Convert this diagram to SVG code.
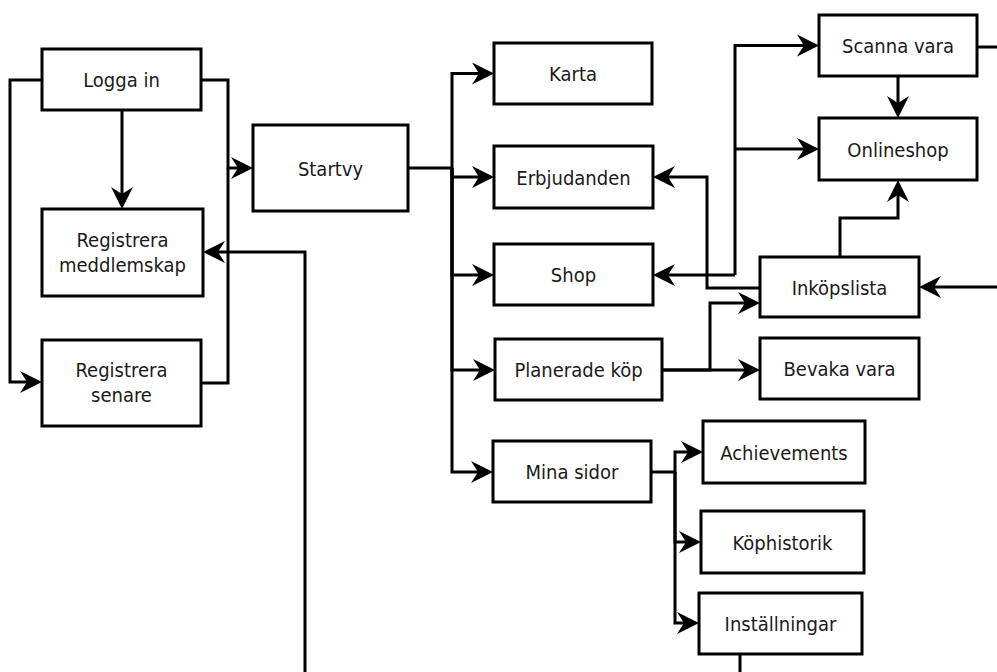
<svg xmlns="http://www.w3.org/2000/svg" width="997" height="672" viewBox="0 0 997 672">
<style>
.box{fill:#fff;stroke:#000;stroke-width:3}
.lbl{font-family:"DejaVu Sans Condensed","DejaVu Sans",sans-serif;font-stretch:condensed;font-size:20px;fill:#1a1a1a;text-anchor:middle}
.c{fill:none;stroke:#000;stroke-width:3}
.a{marker-end:url(#arr)}
</style>
<defs>
<marker id="arr" viewBox="-8 -12 24 24" refX="0" refY="0" markerWidth="24" markerHeight="24" markerUnits="userSpaceOnUse" orient="auto">
<path d="M15,0 L-7,-11 L0,0 L-7,11 Z" fill="#000"/>
</marker>
</defs>
<rect width="997" height="672" fill="#fff"/>
<g id="connectors">
<path class="c a" d="M42,80 H10 V382 H27"/>
<path class="c a" d="M122,110 V194"/>
<path class="c a" d="M201,80 H228 V168 H238"/>
<path class="c" d="M201,383 H228 V168"/>
<path class="c a" d="M305,672 V252 H218"/>
<path class="c a" d="M408,168 H452 V73.5 H479"/>
<path class="c a" d="M452,168 V177 H479"/>
<path class="c a" d="M452,168 V275 H479"/>
<path class="c a" d="M452,168 V370 H480"/>
<path class="c a" d="M452,168 V472 H478"/>
<path class="c a" d="M735,275 H668"/>
<path class="c a" d="M735,275 V45.5 H804"/>
<path class="c a" d="M735,149 H804"/>
<path class="c a" d="M898,76 V103"/>
<path class="c" d="M977,47 H997"/>
<path class="c a" d="M840,257 V218 H898 V195"/>
<path class="c a" d="M760,288 H707 V177 H668"/>
<path class="c a" d="M662,370 H710 V303 H745"/>
<path class="c a" d="M662,370 H745"/>
<path class="c a" d="M997,287 H934"/>
<path class="c a" d="M651,472 H675 V452 H688"/>
<path class="c a" d="M675,472 V542 H686"/>
<path class="c a" d="M675,472 V623 H684"/>
<path class="c" d="M740,654 V672"/>
</g>
<g id="logga-in"><rect class="box" x="42" y="49" width="159" height="61"/><text class="lbl" x="121.5" y="87">Logga in</text></g>
<g id="registrera-meddlemskap"><rect class="box" x="42" y="209" width="161" height="87"/><text class="lbl" x="122.5" y="247">Registrera</text><text class="lbl" x="122.5" y="272">meddlemskap</text></g>
<g id="registrera-senare"><rect class="box" x="42" y="340" width="159" height="86"/><text class="lbl" x="121.5" y="377">Registrera</text><text class="lbl" x="121.5" y="402">senare</text></g>
<g id="startvy"><rect class="box" x="253" y="125" width="155" height="86"/><text class="lbl" x="330.5" y="175.5">Startvy</text></g>
<g id="karta"><rect class="box" x="494" y="43" width="158" height="61"/><text class="lbl" x="573" y="81">Karta</text></g>
<g id="erbjudanden"><rect class="box" x="494" y="146" width="159" height="62"/><text class="lbl" x="573.5" y="184.5">Erbjudanden</text></g>
<g id="shop"><rect class="box" x="494" y="244" width="159" height="61"/><text class="lbl" x="573.5" y="282">Shop</text></g>
<g id="planerade-kop"><rect class="box" x="495" y="339" width="167" height="61"/><text class="lbl" x="578.5" y="377">Planerade köp</text></g>
<g id="mina-sidor"><rect class="box" x="493" y="441" width="158" height="61"/><text class="lbl" x="572" y="479">Mina sidor</text></g>
<g id="scanna-vara"><rect class="box" x="819" y="15" width="158" height="61"/><text class="lbl" x="898" y="53">Scanna vara</text></g>
<g id="onlineshop"><rect class="box" x="819" y="118" width="158" height="62"/><text class="lbl" x="898" y="156.5">Onlineshop</text></g>
<g id="inkopslista"><rect class="box" x="760" y="257" width="159" height="60"/><text class="lbl" x="839.5" y="294.5">Inköpslista</text></g>
<g id="bevaka-vara"><rect class="box" x="760" y="338" width="159" height="61"/><text class="lbl" x="839.5" y="376">Bevaka vara</text></g>
<g id="achievements"><rect class="box" x="703" y="421" width="162" height="62"/><text class="lbl" x="784" y="459.5">Achievements</text></g>
<g id="kophistorik"><rect class="box" x="701" y="511" width="163" height="62"/><text class="lbl" x="782.5" y="549.5">Köphistorik</text></g>
<g id="installningar"><rect class="box" x="699" y="593" width="163" height="61"/><text class="lbl" x="780.5" y="631">Inställningar</text></g>
</svg>
